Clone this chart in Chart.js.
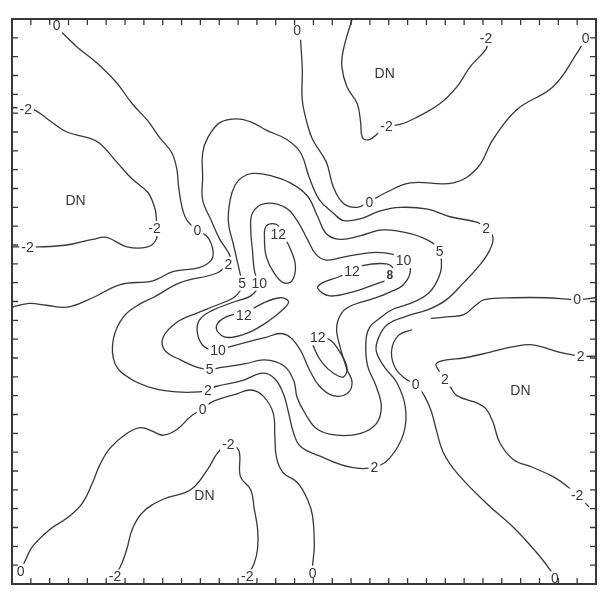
<!DOCTYPE html>
<html>
<head>
<meta charset="utf-8">
<script src="https://cdn.jsdelivr.net/npm/chart.js@4/dist/chart.umd.min.js"></script>
<style>
  html, body { margin: 0; padding: 0; background: #fff; }
  canvas { display: block; }
</style>
</head>
<body>
<canvas id="map" width="604" height="596"></canvas>
<script>
// Field extent in grid cells
const X_MAX = 34;
const Y_MAX = 30;

// Contour lines, [x, y] in grid cells
const contour0UpperLeft = [[2.9,29.3],[3.8,28.5],[4.9,27.7],[6.1,26.6],[7.0,25.5],[7.9,24.6],[8.6,23.7],[9.3,22.9],[9.6,22.0],[9.7,21.1],[9.9,20.0],[10.2,19.3],[10.8,18.8],[11.4,18.4],[11.7,17.7],[11.6,17.2],[10.9,16.8],[9.4,16.6],[8.2,16.1],[6.3,15.9],[4.7,15.2],[3.2,14.7],[2.0,14.8],[1.0,14.9],[0,14.7]];

const contourM2UpperLeft = [[0,25.3],[1.2,25.2],[2.2,24.6],[3.2,24.0],[4.4,23.7],[5.1,23.4],[6.1,22.4],[7.0,21.5],[7.9,20.8],[8.3,20.0],[8.4,19.5],[8.4,18.9],[8.4,18.3],[7.9,17.9],[6.7,17.9],[5.5,18.4],[4.7,18.3],[3.2,18.0],[1.6,17.9],[0,17.9]];

const contourM2UpperRight = [[19.8,30],[19.3,28.4],[19.2,27.5],[19.5,26.4],[20.1,25.5],[20.3,24.5],[20.4,23.7],[20.8,23.6],[21.4,24.0],[21.8,24.3],[22.6,24.4],[23.6,24.8],[24.9,25.5],[25.9,26.4],[26.7,27.5],[27.6,28.4],[27.7,28.9]];

const contour0UpperRight = [[16.8,28.9],[16.9,27.3],[16.9,25.7],[17.2,24.4],[17.5,23.6],[18.3,22.4],[18.7,21.1],[19.3,20.2],[20.1,20.0],[20.8,20.3],[21.8,20.8],[23.2,21.3],[25.7,21.3],[27.1,22.1],[28.0,23.6],[29.4,25.2],[31.5,26.4],[32.9,28.2],[33.4,29.0]];

const contour2 = [[12.6,17.0],[12.7,17.4],[12.1,18.3],[11.6,19.3],[11.1,20.4],[11.1,21.6],[11.1,22.9],[11.4,23.7],[12.1,24.5],[13.1,24.7],[14.0,24.5],[14.8,24.1],[16.0,23.6],[16.8,22.9],[17.3,21.6],[17.9,20.4],[18.7,19.7],[19.3,19.3],[20.3,19.4],[21.4,19.8],[22.6,20.0],[24.2,19.9],[25.5,19.5],[27.1,19.2],[27.6,18.9],[28.0,18.4],[27.8,17.7],[27.2,16.9],[26.3,16.0],[25.3,15.1],[24.3,14.6],[22.9,14.2],[21.9,13.8],[21.4,13.2],[21.2,12.4],[21.7,11.5],[22.4,10.7],[22.9,9.4],[22.8,8.0],[22.0,6.7],[21.1,6.2],[19.7,6.2],[17.9,6.8],[16.8,7.3],[16.4,8.0],[16.1,9.1],[15.8,10.1],[15.3,10.9],[14.6,11.2],[13.4,10.8],[11.9,10.5],[11.4,10.3],[10.9,10.2],[9.6,10.2],[8.2,10.4],[6.9,10.9],[6.0,11.7],[5.9,13.0],[6.5,14.2],[7.5,14.9],[8.2,15.2],[9.8,16.0],[11.9,16.5],[12.6,17.0]];

const contour5 = [[13.4,16.0],[13.2,16.8],[12.9,18.0],[12.6,19.2],[12.7,20.4],[13.0,21.2],[13.4,21.6],[14.0,21.8],[15.0,21.7],[16.2,21.3],[17.2,20.6],[17.8,19.5],[18.3,18.6],[19.1,18.3],[20.3,18.5],[21.6,18.8],[23.2,18.6],[24.5,18.1],[24.9,17.6],[25.0,16.8],[24.7,16.0],[24.2,15.4],[23.2,14.9],[22.2,14.6],[21.4,14.1],[20.8,13.6],[20.6,12.8],[20.7,11.6],[21.2,10.5],[21.5,9.4],[21.2,8.5],[20.3,8.0],[18.9,7.9],[17.8,8.2],[17.1,9.0],[16.6,9.9],[16.4,10.8],[15.8,11.6],[14.7,11.9],[13.6,11.7],[12.2,11.5],[11.5,11.4],[10.8,11.5],[9.8,11.9],[8.9,12.4],[8.8,13.1],[9.6,13.9],[10.8,14.4],[11.9,14.8],[12.9,15.2],[13.3,15.6],[13.4,16.0]];

const contour10 = [[22.8,17.2],[23.2,16.7],[22.8,15.9],[22.0,15.5],[21.2,15.2],[19.8,14.8],[19.2,14.4],[18.9,13.6],[19.1,12.6],[19.5,11.4],[19.8,10.7],[19.5,10.1],[18.7,10.0],[17.9,10.5],[17.3,11.4],[16.8,12.4],[16.2,13.1],[15.6,13.3],[14.8,13.1],[13.9,12.9],[12.7,12.6],[12.0,12.4],[11.2,12.6],[10.8,13.3],[10.9,14.0],[11.6,14.5],[13.0,15.0],[13.9,15.3],[14.3,15.8],[14.1,16.7],[14.0,17.7],[13.9,18.8],[14.0,19.7],[14.7,20.2],[15.9,20.0],[16.6,19.3],[17.2,18.3],[17.7,17.5],[18.3,17.2],[19.5,17.4],[21.0,17.6],[22.2,17.5],[22.8,17.2]];

const contour12Upper = [[15.6,18.8],[15.4,19.1],[14.8,19.0],[14.7,18.3],[14.8,17.4],[15.2,16.6],[15.8,16.0],[16.3,16.1],[16.5,16.9],[16.2,17.8],[15.8,18.5],[15.6,18.8]];
const contour12Right = [[19.8,16.6],[20.4,16.9],[21.8,17.0],[22.2,16.7],[21.9,16.2],[21.4,16.0],[19.8,15.5],[18.5,15.3],[17.8,15.7],[18.1,16.0],[19.0,16.3],[19.8,16.6]];
const contour12Left = [[13.6,14.4],[12.5,14.2],[11.9,13.7],[12.2,13.2],[12.8,13.1],[13.9,13.4],[15.0,14.0],[15.8,14.6],[16.1,15.0],[15.6,15.2],[14.6,14.9],[13.6,14.4]];
const contour12Lower = [[18.0,13.2],[17.5,13.0],[17.7,12.3],[18.1,11.7],[18.7,11.2],[19.3,11.0],[19.5,11.5],[19.1,12.3],[18.6,12.9],[18.0,13.2]];

const contour0Right = [[24.4,14.1],[25.5,14.2],[26.3,14.3],[27.0,14.8],[27.5,15.1],[29.2,15.2],[31.1,15.2],[32.9,15.1],[34,15.2]];

const contour0LowerRight = [[23.3,13.5],[22.5,13.2],[22.1,12.4],[22.3,11.5],[22.9,10.9],[23.5,10.6],[24.0,10.0],[24.4,9.2],[24.7,8.2],[25.1,7.0],[25.9,5.9],[27.6,4.3],[29.2,3.0],[30.7,1.5],[31.6,0.4],[31.9,0]];

const contour2LowerRight = [[34,12.1],[33.1,12.1],[31.9,12.3],[30.3,12.7],[29.2,12.6],[27.8,12.3],[26.3,12.0],[25.3,11.9],[24.7,11.7],[24.8,11.4],[25.2,10.9],[25.5,10.5],[25.9,10.0],[27.1,9.6],[27.6,9.3],[28.0,8.6],[28.4,7.5],[29.2,6.6],[30.3,6.2],[31.5,5.7],[32.3,5.2],[32.9,4.7],[33.6,4.1]];

const contour0LowerLeft = [[0.5,0.7],[0.8,1.3],[1.2,2.0],[2.2,2.9],[3.2,3.5],[4.1,4.3],[4.7,5.4],[5.1,6.3],[5.7,7.2],[6.7,8.0],[7.5,8.3],[8.2,8.1],[8.8,7.9],[9.6,8.2],[10.4,8.9],[11.1,9.3],[11.7,9.7],[13.1,10.1],[13.9,10.3],[14.6,10.0],[15.2,9.1],[15.3,7.9],[15.4,6.7],[15.8,5.9],[16.6,5.4],[17.2,4.5],[17.5,3.6],[17.6,2.0],[17.5,1.0],[17.5,0.6]];

const contourM2LowerLeft = [[6.0,0.4],[6.4,1.1],[6.7,1.9],[7.0,2.9],[7.6,3.8],[8.8,4.5],[10.4,5.0],[11.4,6.1],[12.0,7.0],[12.6,7.4],[13.2,7.1],[13.3,5.7],[13.9,5.0],[14.1,4.0],[14.3,2.9],[14.3,1.9],[14.1,1.1],[13.7,0.4]];

// Contour value labels and region labels
const labelTexts = ["0","0","-2","0","DN","-2","-2","DN","0","-2","0","2","-2","12","5","10","2","12","8","5","10","0","12","12","10","2","5","2","0","DN","2","0","-2","2","-2","DN","0","-2","-2","0","0"];
const labelXs   = [2.6,16.6,27.6,33.4,21.7,0.8,21.8,3.7,20.8,8.3,10.8,27.6,0.9,15.5,24.9,22.8,12.6,19.8,22.0,13.4,14.4,32.9,13.5,17.8,12.0,33.1,11.5,25.2,23.5,29.6,11.4,11.1,12.6,21.1,32.9,11.2,0.5,6.0,13.7,17.5,31.6];
const labelYs   = [29.7,29.4,29.0,29.0,27.1,25.2,24.3,20.4,20.3,18.9,18.8,18.9,17.9,18.6,17.7,17.2,17.0,16.6,16.4,16.0,16.0,15.1,14.3,13.1,12.4,12.1,11.4,10.9,10.6,10.3,10.3,9.3,7.4,6.2,4.7,4.7,0.7,0.4,0.4,0.6,0.3];

// Frame tick marks (inward)
const xTicks = Array.from({ length: 32 }, (_, i) => i * X_MAX / 31);
const yTicks = Array.from({ length: Y_MAX + 1 }, (_, i) => i);

const lines = [
  contour0UpperLeft, contourM2UpperLeft, contourM2UpperRight, contour0UpperRight,
  contour2, contour5, contour10,
  contour12Upper, contour12Right, contour12Left, contour12Lower,
  contour0Right, contour0LowerRight, contour2LowerRight,
  contour0LowerLeft, contourM2LowerLeft
];

const INK = '#383838';
const FONT = '"Liberation Sans", Arial, sans-serif';

const overlay = {
  id: 'overlay',
  afterDatasetsDraw(chart) {
    const { ctx, chartArea: a, scales: { x, y } } = chart;
    ctx.save();
    ctx.textAlign = 'center';
    ctx.textBaseline = 'middle';
    labelTexts.forEach((t, i) => {
      const px = x.getPixelForValue(labelXs[i]);
      const py = y.getPixelForValue(labelYs[i]);
      ctx.font = t === '8' ? 'bold 12px ' + FONT : '14px ' + FONT;
      const w = ctx.measureText(t).width;
      if (t !== 'DN') {
        ctx.fillStyle = '#fff';
        ctx.fillRect(px - w / 2 - 2, py - 7, w + 4, 15);
      }
      ctx.fillStyle = INK;
      ctx.fillText(t, px, py + 1);
    });

    ctx.strokeStyle = INK;
    ctx.lineWidth = 2;
    ctx.strokeRect(a.left, a.top, a.right - a.left, a.bottom - a.top);

    ctx.lineWidth = 1.3;
    ctx.beginPath();
    xTicks.forEach(v => {
      const p = x.getPixelForValue(v);
      ctx.moveTo(p, a.top); ctx.lineTo(p, a.top + 6);
      ctx.moveTo(p, a.bottom); ctx.lineTo(p, a.bottom - 6);
    });
    yTicks.forEach(v => {
      const p = y.getPixelForValue(v);
      ctx.moveTo(a.left, p); ctx.lineTo(a.left + 6, p);
      ctx.moveTo(a.right, p); ctx.lineTo(a.right - 6, p);
    });
    ctx.stroke();
    ctx.restore();
  }
};

new Chart(document.getElementById('map'), {
  type: 'scatter',
  data: {
    datasets: lines.map(pts => ({
      data: pts.map(([px, py]) => ({ x: px, y: py })),
      showLine: true,
      fill: false,
      tension: 0.4,
      borderColor: INK,
      borderWidth: 1.3,
      pointRadius: 0,
      pointHoverRadius: 0
    }))
  },
  options: {
    responsive: false,
    animation: false,
    events: [],
    layout: { padding: { left: 12, top: 19, right: 8, bottom: 12 } },
    scales: {
      x: { type: 'linear', min: 0, max: X_MAX, display: false },
      y: { type: 'linear', min: 0, max: Y_MAX, display: false }
    },
    plugins: { legend: { display: false }, tooltip: { enabled: false } }
  },
  plugins: [overlay]
});
</script>
</body>
</html>
